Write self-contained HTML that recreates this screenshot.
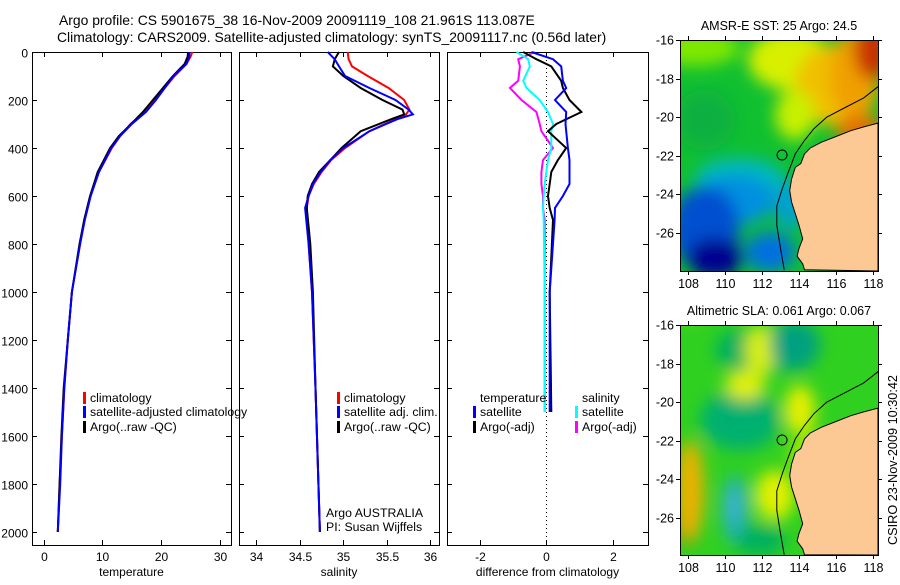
<!DOCTYPE html>
<html><head><meta charset="utf-8"><style>
html,body{margin:0;padding:0;background:#fff;}
svg text{font-family:"Liberation Sans",sans-serif;fill:#000;}
</style></head><body>
<svg id="fig" width="900" height="580" viewBox="0 0 900 580" xmlns="http://www.w3.org/2000/svg">
<defs>
<filter id="blur" x="-20%" y="-20%" width="140%" height="140%"><feGaussianBlur stdDeviation="8"/></filter>
<clipPath id="m1clip"><rect x="680" y="40" width="198" height="231"/></clipPath>
<clipPath id="m2clip"><rect x="680" y="325" width="198" height="230"/></clipPath>
</defs>
<text x="59" y="25" font-size="13.9">Argo profile: CS 5901675_38 16-Nov-2009 20091119_108 21.961S 113.087E</text>
<text x="57" y="42" font-size="13.9">Climatology: CARS2009. Satellite-adjusted climatology: synTS_20091117.nc (0.56d later)</text>
<g id="plots"></g>
<g id="maps"></g>
<text transform="translate(897,460) rotate(-90)" text-anchor="middle" font-size="12.7">CSIRO 23-Nov-2009 10:30:42</text>
</svg>
<script>
// ---------- data ----------
const tempDepth = [0,20,50,100,150,200,250,300,350,400,500,600,700,800,1000,1200,1400,1600,1800,2000];
const tempClim  = [25.3,25.0,24.3,22.3,20.6,19.0,17.2,14.8,13.0,11.6,9.4,7.9,6.9,6.2,4.8,4.1,3.5,3.1,2.7,2.4];
const tempSat   = [24.8,24.8,24.3,22.1,20.6,19.1,17.4,15.0,13.0,11.5,9.4,8.0,7.0,6.2,4.8,4.1,3.5,3.1,2.8,2.4];
const tempArgo  = [24.6,24.5,24.0,22.0,20.3,18.6,16.9,14.9,12.8,11.3,9.2,7.9,6.9,6.1,4.8,4.1,3.4,3.0,2.7,2.4];

const salDepth = [0,30,60,100,150,200,240,260,280,330,400,450,500,550,600,650,800,1000,1400,2000];
const salClim  = [35.05,35.06,35.1,35.28,35.52,35.7,35.76,35.72,35.6,35.3,35.02,34.86,34.75,34.66,34.6,34.58,34.6,34.64,34.68,34.73];
const salSat   = [34.82,34.9,34.95,35.02,35.3,35.6,35.75,35.8,35.62,35.3,35.0,34.85,34.74,34.65,34.6,34.56,34.6,34.64,34.68,34.73];
const salArgo  = [34.95,34.9,34.88,35.0,35.2,35.45,35.68,35.7,35.55,35.2,34.98,34.85,34.72,34.64,34.59,34.58,34.62,34.65,34.68,34.73];

const diffDepth = [0,30,60,120,150,200,250,300,330,400,450,500,550,600,650,700,1000,1500];
const dTempSat  = [-0.45,0.2,0.45,0.5,0.6,0.26,0.6,0.58,0.6,0.65,0.7,0.7,0.7,0.5,0.26,0.25,0.1,0.1];
const dTempArgo = [-0.7,-0.3,0.15,0.45,0.5,0.7,1.06,0.3,0.05,0.6,0.35,0.15,0.1,0.05,0.1,0.2,0.1,0.15];
const dSalSat   = [-0.9,-0.55,-0.5,-0.7,-0.6,-0.2,0.05,0.2,0.15,0.15,0.05,0.0,-0.05,-0.08,-0.1,-0.08,-0.05,-0.05];
const dSalArgo  = [-0.35,-0.85,-0.8,-0.85,-1.1,-0.75,-0.3,-0.2,-0.15,0.2,-0.1,-0.15,-0.15,-0.1,-0.1,-0.05,-0.05,-0.05];

const depthTicks = [0,200,400,600,800,1000,1200,1400,1600,1800,2000];
const tempTicks = [0,10,20,30];
const salTicks = [34,34.5,35,35.5,36];
const diffTicks = [-2,0,2];

// ---------- layout ----------
const NS='http://www.w3.org/2000/svg';
const yTop=52, yBot=545;
const yD = d => yTop + d*0.24;
function mk(tag, attrs, parent){const e=document.createElementNS(NS,tag);for(const k in attrs)e.setAttribute(k,attrs[k]);parent.appendChild(e);return e;}
const plots=document.getElementById('plots');

const panels=[
 {name:'temperature',x0:32,x1:231,v0:-2.0,v1:31.9,ticks:tempTicks,label:'temperature'},
 {name:'salinity',x0:239,x1:439,v0:33.8,v1:36.1,ticks:salTicks,label:'salinity'},
 {name:'difference',x0:447,x1:648,v0:-3.0,v1:3.07,ticks:diffTicks,label:'difference from climatology'}
];
panels.forEach(p=>{p.sx=v=>p.x0+(v-p.v0)/(p.v1-p.v0)*(p.x1-p.x0);});

function series(p,depths,vals,color,name,w){
  const pts=depths.map((d,i)=>p.sx(vals[i]).toFixed(1)+','+yD(d).toFixed(1)).join(' ');
  const l=mk('polyline',{points:pts,fill:'none',stroke:color,'stroke-width':w||2,'stroke-linejoin':'miter'},p.g);
  
  
}

panels.forEach((p,pi)=>{
  p.g=mk('g',{},plots);
  
  
  const box=mk('rect',{x:p.x0+0.5,y:yTop+0.5,width:p.x1-p.x0,height:yBot-yTop,fill:'none',stroke:'#000','stroke-width':1},p.g);
  
  
  depthTicks.forEach(d=>{
    const y=Math.round(yD(d))+0.5;
    mk('line',{x1:p.x0,x2:p.x0+5,y1:y,y2:y,stroke:'#000'},p.g);
    mk('line',{x1:p.x1-5,x2:p.x1,y1:y,y2:y,stroke:'#000'},p.g);
    if(pi===0){const t=mk('text',{x:28,y:y+5,'text-anchor':'end','font-size':12},p.g);t.textContent=d;
      
      }
  });
  p.ticks.forEach(v=>{
    const x=Math.round(p.sx(v))+0.5;
    mk('line',{x1:x,x2:x,y1:yTop,y2:yTop+5,stroke:'#000'},p.g);
    mk('line',{x1:x,x2:x,y1:yBot-5,y2:yBot,stroke:'#000'},p.g);
    const t=mk('text',{x:x,y:561,'text-anchor':'middle','font-size':12},p.g);t.textContent=v;
    
    
  });
  const xl=mk('text',{x:(p.x0+p.x1)/2,y:576,'text-anchor':'middle','font-size':12},p.g);xl.textContent=p.label;
  
  
});

// series
series(panels[0],tempDepth,tempClim,'#f00','temp-climatology-line');
series(panels[0],tempDepth,tempArgo,'#000','temp-argo-line');
series(panels[0],tempDepth,tempSat,'#00f','temp-satellite-line');
series(panels[1],salDepth,salClim,'#f00','sal-climatology-line');
series(panels[1],salDepth,salArgo,'#000','sal-argo-line');
series(panels[1],salDepth,salSat,'#00f','sal-satellite-line');
const zx=Math.round(panels[2].sx(0))+0.5;
const zl=mk('line',{x1:zx,x2:zx,y1:yTop,y2:yBot,stroke:'#000','stroke-dasharray':'1,3'},panels[2].g);


series(panels[2],diffDepth,dSalArgo,'#f0f','diff-sal-argo-line');
series(panels[2],diffDepth,dSalSat,'#0ff','diff-sal-satellite-line');
series(panels[2],diffDepth,dTempArgo,'#000','diff-temp-argo-line');
series(panels[2],diffDepth,dTempSat,'#00f','diff-temp-satellite-line');

// legends
function legend(g,x,y,color,label){
  const e=mk('g',{},g);
  
  
  if(color) mk('rect',{x:x,y:y-10,width:3,height:12,fill:color},e);
  const t=mk('text',{x:x+7,y:y,'font-size':12.3},e);t.textContent=label;
}
legend(panels[0].g,83,402,'#f00','climatology');
legend(panels[0].g,83,416,'#00f','satellite-adjusted climatology');
legend(panels[0].g,83,431,'#000','Argo(..raw -QC)');
legend(panels[1].g,337,402,'#f00','climatology');
legend(panels[1].g,337,416,'#00f','satellite adj. clim.');
legend(panels[1].g,337,431,'#000','Argo(..raw -QC)');
legend(panels[2].g,473,402,null,'temperature');
legend(panels[2].g,473,416,'#00f','satellite');
legend(panels[2].g,473,431,'#000','Argo(-adj)');
legend(panels[2].g,575,402,null,'salinity');
legend(panels[2].g,575,416,'#0ff','satellite');
legend(panels[2].g,575,431,'#f0f','Argo(-adj)');
const a1=mk('text',{x:326,y:517,'font-size':12.3},panels[1].g);a1.textContent='Argo AUSTRALIA';


const a2=mk('text',{x:326,y:531,'font-size':12.3},panels[1].g);a2.textContent='PI: Susan Wijffels';



// ---------- maps ----------
const maps=document.getElementById('maps');
const lonTicks=[108,110,112,114,116,118];
const latTicks=[-16,-18,-20,-22,-24,-26];
const coastLon=[118.3,117.5,116.8,116,115.2,114.6,114.3,114.1,113.8,113.6,113.5,113.6,113.8,114.0,114.2,114.0,113.9,114.2,114.3];
const coastLat=[-20.3,-20.5,-20.7,-21.0,-21.3,-21.6,-21.9,-22.4,-22.6,-23.2,-23.8,-24.4,-25.0,-25.6,-26.3,-26.8,-27.2,-27.6,-27.9];
const shelfLon=[118.3,117.5,116.5,115.5,114.8,114.3,113.8,113.4,113.1,112.8,112.8,113.0,113.2];
const shelfLat=[-18.4,-19.0,-19.5,-20.0,-20.6,-21.2,-21.9,-22.9,-23.7,-24.6,-25.6,-26.8,-27.9];
const argoLon=113.087, argoLat=-21.961;

const sstBlobs=[['#80e800',695,48,45,18],['#d8f000',790,60,42,30],['#f0c000',830,85,35,40],['#f0a000',855,75,25,45],['#c83000',872,50,18,30],
['#e07000',860,130,25,15],['#c8f000',795,115,20,25],['#10b040',705,120,30,30],['#00b8c0',740,180,45,22],
['#0090e0',735,200,40,25],['#0050d0',705,228,35,42],['#000090',715,258,28,20],['#0070e0',770,252,25,20],['#00a0d0',790,205,15,25]];
const slaBlobs=[['#d0f000',690,200,18,120],['#e08000',688,510,12,35],['#f0b000',690,490,14,50],['#00b060',740,350,25,20],['#00c050',775,350,20,25],
['#d8f000',760,350,15,25],['#00a080',795,345,25,25],['#00b070',740,420,40,30],['#20b0c0',735,510,12,35],['#40b0e0',733,505,7,15],
['#e0f000',745,385,20,15],['#e8f000',800,410,15,25],['#e0f000',775,495,20,25],['#00b060',760,540,25,15],['#b0f000',820,455,30,20]];

function drawMap(x0,y0,h,title,base,blobs,clip,name,blobOffset){
  const g=mk('g',{},maps);
  
  
  const w=198;
  const sx=lon=>x0+(lon-107.57)*18.5;
  const sy=lat=>y0+(-16-lat)*19.3;
  const cg=mk('g',{'clip-path':'url(#'+clip+')'},g);
  mk('rect',{x:x0,y:y0,width:w,height:h,fill:base},cg);
  const bg=mk('g',{filter:'url(#blur)'},cg);
  blobs.forEach(b=>mk('ellipse',{cx:b[1],cy:b[2]+blobOffset,rx:b[3],ry:b[4],fill:b[0]},bg));
  let land=coastLon.map((l,i)=>sx(l).toFixed(1)+','+sy(coastLat[i]).toFixed(1)).join(' ');
  land+=' '+(x0+w)+','+(y0+h)+' '+(x0+w)+','+sy(-20.3);
  const lp=mk('polygon',{points:land,fill:'#fcc994',stroke:'#000','stroke-width':1},cg);
  
  
  const sp=mk('polyline',{points:shelfLon.map((l,i)=>sx(l).toFixed(1)+','+sy(shelfLat[i]).toFixed(1)).join(' '),fill:'none',stroke:'#000','stroke-width':1},cg);
  
  
  const c=mk('circle',{cx:sx(argoLon),cy:sy(argoLat),r:5,fill:'none',stroke:'#000','stroke-width':1},g);
  
  
  mk('rect',{x:x0+0.5,y:y0+0.5,width:w,height:h,fill:'none',stroke:'#000'},g);
  lonTicks.forEach(l=>{const x=Math.round(sx(l))+0.5;
    mk('line',{x1:x,x2:x,y1:y0-4,y2:y0,stroke:'#000'},g);
    mk('line',{x1:x,x2:x,y1:y0+h,y2:y0+h+4,stroke:'#000'},g);
    const t=mk('text',{x:x,y:y0+h+17,'text-anchor':'middle','font-size':12.5},g);t.textContent=l;
    
    });
  latTicks.forEach(l=>{const y=Math.round(sy(l))+0.5;
    mk('line',{x1:x0-4,x2:x0,y1:y,y2:y,stroke:'#000'},g);
    mk('line',{x1:x0+w,x2:x0+w+4,y1:y,y2:y,stroke:'#000'},g);
    const t=mk('text',{x:x0-6,y:y+4,'text-anchor':'end','font-size':12.5},g);t.textContent=l;
    
    });
  const tt=mk('text',{x:x0+w/2,y:y0-10,'text-anchor':'middle','font-size':12.5},g);tt.textContent=title;
  
  
}
drawMap(680,40,231,'AMSR-E SST: 25 Argo: 24.5','#10c030',sstBlobs,'m1clip','sst-map',0);
drawMap(680,325,230,'Altimetric SLA: 0.061 Argo: 0.067','#30d020',slaBlobs,'m2clip','sla-map',0);
</script>
</body></html>
